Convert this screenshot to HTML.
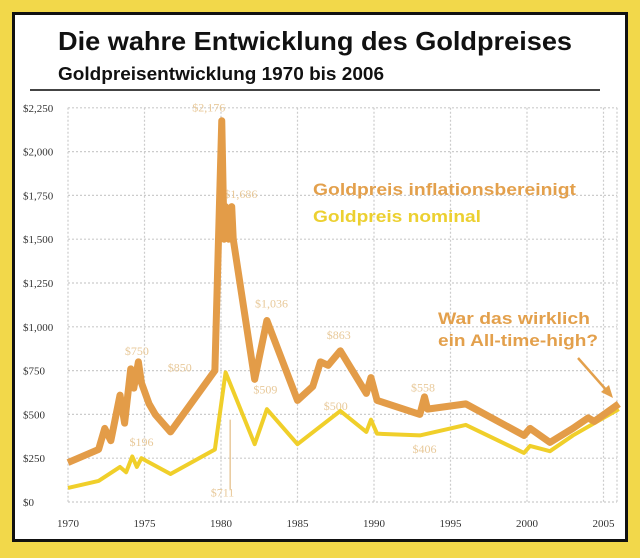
<!DOCTYPE html>
<html><head><meta charset="utf-8"><style>
body{margin:0;width:640px;height:558px;background:#f2d84a;overflow:hidden;font-family:"Liberation Sans",sans-serif}
#frame{position:absolute;left:12px;top:12px;width:610px;height:524px;background:#fff;border:3px solid #111;}
</style></head><body>
<div id="frame"></div>
<svg id="chart" width="640" height="558" style="position:absolute;left:0;top:0">
<text x="58" y="50" font-size="26" font-weight="bold" fill="#111" textLength="514" lengthAdjust="spacingAndGlyphs">Die wahre Entwicklung des Goldpreises</text>
<text x="58" y="80" font-size="18" font-weight="bold" fill="#111" textLength="326" lengthAdjust="spacingAndGlyphs">Goldpreisentwicklung 1970 bis 2006</text>
<line x1="30" y1="90" x2="600" y2="90" stroke="#444" stroke-width="2"/>
<g id="grid"></g><g id="axes"></g><g id="labels"></g><g id="series"></g>
<text x="313" y="195" font-size="17" font-weight="bold" fill="#e3a04c" textLength="263" lengthAdjust="spacingAndGlyphs">Goldpreis inflationsbereinigt</text>
<text x="313" y="222" font-size="17" font-weight="bold" fill="#ecd030" textLength="168" lengthAdjust="spacingAndGlyphs">Goldpreis nominal</text>
<text x="438" y="324" font-size="17" font-weight="bold" fill="#e3a04c" textLength="152" lengthAdjust="spacingAndGlyphs">War das wirklich</text>
<text x="438" y="346" font-size="17" font-weight="bold" fill="#e3a04c" textLength="160" lengthAdjust="spacingAndGlyphs">ein All-time-high?</text>
<line x1="578" y1="358" x2="608" y2="392" stroke="#e3a04c" stroke-width="2.5"/>
<polygon points="613,398 601,392 609,385" fill="#e3a04c"/>
</svg>
<script>
const yTicks=[0,250,500,750,1000,1250,1500,1750,2000,2250];
const yTickLabels=["$0","$250","$500","$750","$1,000","$1,250","$1,500","$1,750","$2,000","$2,250"];
const xTicks=[1970,1975,1980,1985,1990,1995,2000,2005];
const realYears=[1970,1972,1972.4,1972.8,1973.4,1973.7,1974.1,1974.3,1974.6,1974.8,1975.3,1975.7,1976.7,1979.6,1980.05,1980.2,1980.3,1980.5,1980.7,1980.8,1982.2,1983,1985,1986,1986.5,1987,1987.8,1989.5,1989.8,1990.2,1993,1993.3,1993.5,1996,1999.8,2000.2,2001.5,2003,2004,2004.4,2006];
const realValues=[225,300,420,350,610,450,760,650,800,680,560,500,400,750,2176,1500,1686,1500,1686,1500,700,1036,580,660,800,780,863,620,710,580,500,600,530,560,380,420,340,420,480,460,560];
const nomYears=[1970,1972,1973.4,1973.8,1974.2,1974.5,1974.8,1976.7,1979.6,1980.3,1982.2,1983,1985,1987.8,1989.5,1989.8,1990.2,1993,1996,1999.8,2000.2,2001.5,2003,2006];
const nomValues=[80,120,200,170,260,200,250,160,300,740,330,530,330,520,400,470,390,380,440,280,320,290,380,530];
const valueLabels=["$2,176","$1,686","$1,036","$750","$850","$863","$509","$500","$558","$406","$196","$711"];
const valueLabelYears=[1979.2,1981.3,1983.3,1974.5,1977.3,1987.7,1982.9,1987.5,1993.2,1993.3,1974.8,1980.1];
const valueLabelValues=[2230,1735,1110,840,745,930,620,525,630,280,320,30];
const X=y=>68+(y-1970)*15.3;
const Y=v=>502-v*43.8/250;
const NS="http://www.w3.org/2000/svg";
function mk(tag,attrs,parent){const e=document.createElementNS(NS,tag);for(const k in attrs)e.setAttribute(k,attrs[k]);document.getElementById(parent).appendChild(e);return e;}
yTicks.forEach((t,i)=>{
 const l=mk('line',{x1:68,x2:617,y1:Y(t),y2:Y(t),stroke:'#ccc','stroke-width':1.2,'stroke-dasharray':'2,2'},'grid');
 
 
 const tx=mk('text',{x:23,y:Y(t)+4,'font-size':11,fill:'#333','font-family':'Liberation Serif, serif'},'axes');
 tx.textContent=yTickLabels[i];
 
 
});
xTicks.forEach(t=>{
 const l=mk('line',{x1:X(t),x2:X(t),y1:Y(2250),y2:Y(0),stroke:'#ccc','stroke-width':1.2,'stroke-dasharray':'2,2'},'grid');
 
 
 const tx=mk('text',{x:X(t),y:527,'font-size':11,fill:'#333','text-anchor':'middle','font-family':'Liberation Serif, serif'},'axes');
 tx.textContent=t;
 
 
});
const r=mk('line',{x1:617,x2:617,y1:Y(2250),y2:Y(0),stroke:'#ccc','stroke-width':1.2,'stroke-dasharray':'2,2'},'grid');


valueLabels.forEach((s,i)=>{
 const tx=mk('text',{x:X(valueLabelYears[i]),y:Y(valueLabelValues[i]),'font-size':12,fill:'#e8c99a','text-anchor':'middle','font-family':'Liberation Serif, serif'},'labels');
 tx.textContent=s;
 
 
});
const ar=mk('line',{x1:X(1980.6),x2:X(1980.6),y1:Y(70),y2:Y(470),stroke:'#e8c99a','stroke-width':1.5},'labels');


const pts=(xs,vs)=>xs.map((y,i)=>X(y)+','+Y(vs[i])).join(' ');
const pn=mk('polyline',{points:pts(nomYears,nomValues),fill:'none',stroke:'#f0cf2a','stroke-width':4,'stroke-linejoin':'round'},'series');


const pr=mk('polyline',{points:pts(realYears,realValues),fill:'none',stroke:'#e39c48','stroke-width':7,'stroke-linejoin':'round'},'series');


</script>
</body></html>
